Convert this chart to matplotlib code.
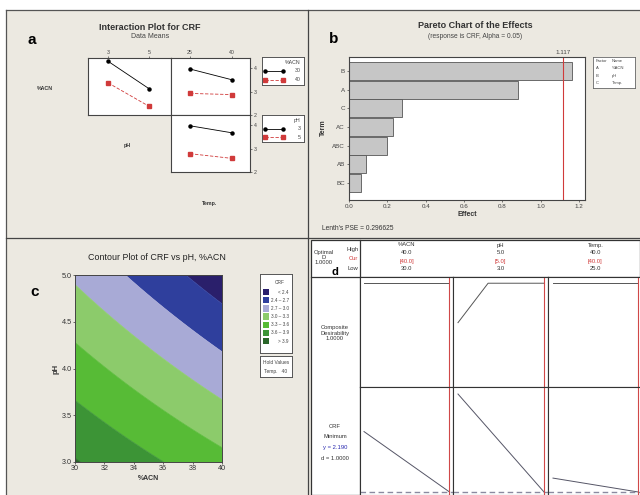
import numpy as np
import matplotlib
matplotlib.use("Agg")
import matplotlib.pyplot as plt
from matplotlib.patches import Rectangle

plt.rcParams['font.family'] = ['Liberation Sans', 'DejaVu Sans']

W, H = 640, 495
BG = '#ece9e1'
RED = '#d03a3a'

# ---- panel a: interaction plot (data means) ----
ph_levels = [3, 5]
temp_levels = [25, 40]
acn30_vs_ph = [4.29, 3.12]
acn40_vs_ph = [3.37, 2.37]
acn30_vs_temp = [3.96, 3.50]
acn40_vs_temp = [2.92, 2.87]
ph3_vs_temp = [3.97, 3.67]
ph5_vs_temp = [2.78, 2.58]

# ---- panel b: pareto chart ----
terms = ['B', 'A', 'C', 'AC', 'ABC', 'AB', 'BC']
effects = [1.162, 0.879, 0.275, 0.228, 0.199, 0.091, 0.061]
critical_effect = 1.117

# ---- panel c: contour, CRF at the corners of the design (Temp = 40) ----
acn_corners = [30, 40]
ph_corners = [3, 5]
crf_corners = [[3.92, 3.39],   # pH 3: ACN 30, ACN 40
               [2.95, 2.22]]   # pH 5: ACN 30, ACN 40
crf_levels = [2.0, 2.4, 2.7, 3.0, 3.3, 3.6, 3.9, 4.5]
crf_colors = ['#2a1f6b', '#2f3f9d', '#a8aad6', '#8ccb6b', '#57bb36', '#3c9436', '#2a6629']
crf_labels = ['< 2.4', '2.4 \u2013 2.7', '2.7 \u2013 3.0', '3.0 \u2013 3.3',
              '3.3 \u2013 3.6', '3.6 \u2013 3.9', '> 3.9']

# ---- panel d: response optimizer ----
acn_range = [30, 40]
ph_range = [3, 5]
temp_range = [25, 40]
desir_acn = [1.0, 1.0]
ph_desir_x = [3, 3.7, 5]
desir_ph = [0.62, 1.0, 1.0]
desir_temp = [1.0, 1.0]
crf_acn = [2.93, 2.19]
crf_ph = [3.39, 2.19]
crf_temp = [2.36, 2.19]
crf_min = 2.190

fig = plt.figure(figsize=(6.4, 4.95), dpi=100)
fig.patch.set_facecolor('white')


def ax_px(x0, y0, x1, y1, **kw):
    return fig.add_axes([x0 / W, 1 - y1 / H, (x1 - x0) / W, (y1 - y0) / H], **kw)


# background layer in pixel coordinates
bg = ax_px(0, 0, W, H)
bg.set_xlim(0, W)
bg.set_ylim(H, 0)
bg.axis('off')
bg.add_patch(Rectangle((6, 9.5), W - 6, H - 9.5, facecolor=BG, edgecolor='none'))
bg.add_patch(Rectangle((311, 240), W - 311, H - 240, facecolor='white', edgecolor='#333333', lw=0.9))
bg.plot([6, W], [9.5, 9.5], color='#555555', lw=0.9)
bg.plot([6, 6], [9.5, H], color='#555555', lw=0.9)
bg.plot([308, 308], [9.5, H], color='#444444', lw=0.9)
bg.plot([6, 308], [237.5, 237.5], color='#444444', lw=0.9)
bg.plot([308, W], [237.5, 237.5], color='#444444', lw=0.9)


def t(x, y, s, **kw):
    kw.setdefault('ha', 'center')
    kw.setdefault('va', 'center')
    bg.text(x, y, s, **kw)


# ================= panel a =================
t(32, 40, 'a', fontsize=11, fontweight='bold')
t(150, 27, 'Interaction Plot for CRF', fontsize=6.5, fontweight='bold', color='#333333')
t(150, 37, 'Data Means', fontsize=5, color='#444444')
t(45, 89, '%ACN', fontsize=3.8, fontweight='bold', color='#333333')
t(127, 146, 'pH', fontsize=3.8, fontweight='bold', color='#333333')
t(210, 204, 'Temp.', fontsize=3.8, fontweight='bold', color='#333333')

ylim_a = (2.0, 4.43)
a_tl = ax_px(88, 58, 171, 115)
a_tr = ax_px(171, 58, 250, 115)
a_br = ax_px(171, 115, 250, 172)
for ax in (a_tl, a_tr, a_br):
    ax.set_ylim(*ylim_a)
    for s in ax.spines.values():
        s.set_color('#444444')
        s.set_linewidth(0.8)
    ax.tick_params(labelsize=3.8, length=1.5, width=0.5, pad=1, colors='#444444')

line_k = dict(color='black', lw=0.6, marker='o', ms=2.2)
line_r = dict(color=RED, lw=0.6, ls=(0, (4, 2)), marker='s', ms=2.2)

a_tl.plot(ph_levels, acn30_vs_ph, **line_k)
a_tl.plot(ph_levels, acn40_vs_ph, **line_r)
a_tl.set_xlim(2.02, 6.07)
a_tl.xaxis.tick_top()
a_tl.set_xticks(ph_levels)
a_tl.set_yticks([])

a_tr.plot(temp_levels, acn30_vs_temp, **line_k)
a_tr.plot(temp_levels, acn40_vs_temp, **line_r)
a_tr.set_xlim(18.2, 46.4)
a_tr.xaxis.tick_top()
a_tr.set_xticks(temp_levels)
a_tr.yaxis.tick_right()
a_tr.set_yticks([2, 3, 4])

a_br.plot(temp_levels, ph3_vs_temp, **line_k)
a_br.plot(temp_levels, ph5_vs_temp, **line_r)
a_br.set_xlim(18.2, 46.4)
a_br.set_xticks([])
a_br.yaxis.tick_right()
a_br.set_yticks([2, 3, 4])


def mini_legend(box, title, labels):
    lg = ax_px(*box)
    lg.set_xlim(0, 1)
    lg.set_ylim(0, 1)
    lg.set_xticks([])
    lg.set_yticks([])
    for s in lg.spines.values():
        s.set_color('#555555')
        s.set_linewidth(0.7)
    lg.text(0.92, 0.8, title, fontsize=3.8, ha='right', va='center', color='#444444')
    lg.plot([0.08, 0.5], [0.5, 0.5], **line_k)
    lg.plot([0.08, 0.5], [0.18, 0.18], **line_r)
    lg.text(0.92, 0.5, labels[0], fontsize=3.8, ha='right', va='center', color='#444444')
    lg.text(0.92, 0.18, labels[1], fontsize=3.8, ha='right', va='center', color='#444444')


mini_legend((262, 57, 304, 85), '%ACN', ['30', '40'])
mini_legend((262, 115, 304, 142), 'pH', ['3', '5'])

# ================= panel b =================
t(334, 39, 'b', fontsize=11, fontweight='bold')
t(475, 26, 'Pareto Chart of the Effects', fontsize=6.5, fontweight='bold', color='#333333')
t(475, 36, '(response is CRF, Alpha = 0.05)', fontsize=4.8, color='#444444')
t(323, 128, 'Term', fontsize=5, fontweight='bold', rotation=90, color='#333333')
t(322, 229, "Lenth's PSE = 0.296625", fontsize=4.8, ha='left', color='#333333')

b = ax_px(349, 57, 585, 200)
ypos = np.arange(len(terms))
b.barh(ypos, effects, height=0.95, color='#c6c6c6', edgecolor='#555555', lw=0.6)
b.axvline(critical_effect, color=RED, lw=0.8)
b.set_xlim(0, 1.23)
b.set_ylim(6.91, -0.75)
b.set_yticks(ypos)
b.set_yticklabels(terms)
b.set_xticks(np.arange(0, 1.21, 0.2))
b.set_xticklabels(['%.1f' % v for v in np.arange(0, 1.21, 0.2)])
b.tick_params(labelsize=4.5, length=1.5, width=0.5, pad=1.5, colors='#444444')
b.set_xlabel('Effect', fontsize=5, fontweight='bold', labelpad=1.5, color='#333333')
for s in b.spines.values():
    s.set_color('#444444')
    s.set_linewidth(0.8)
b.text(critical_effect, -0.85, '%.3f' % critical_effect, fontsize=4.5, ha='center',
       va='bottom', color='#444444')

fb = ax_px(593, 57, 635, 88)
fb.set_xlim(0, 1)
fb.set_ylim(0, 1)
fb.set_xticks([])
fb.set_yticks([])
for s in fb.spines.values():
    s.set_color('#666666')
    s.set_linewidth(0.6)
fact_rows = [('Factor', 'Name'), ('A', '%ACN'), ('B', 'pH'), ('C', 'Temp.')]
for i, (f, n) in enumerate(fact_rows):
    yy = 0.86 - i * 0.23
    fb.text(0.06, yy, f, fontsize=3, va='center', color='#444444')
    fb.text(0.45, yy, n, fontsize=3, va='center', color='#444444')

# ================= panel c =================
t(35, 292, 'c', fontsize=11, fontweight='bold')
t(157, 257, 'Contour Plot of CRF vs pH, %ACN', fontsize=6.4, color='#222222')

c = ax_px(75, 275, 222, 462)
# bilinear response surface through the corner values
acn_g = np.linspace(acn_corners[0], acn_corners[1], 200)
ph_g = np.linspace(ph_corners[0], ph_corners[1], 200)
U, V = np.meshgrid((acn_g - acn_corners[0]) / (acn_corners[1] - acn_corners[0]),
                   (ph_g - ph_corners[0]) / (ph_corners[1] - ph_corners[0]))
Z = (crf_corners[0][0] * (1 - U) * (1 - V) + crf_corners[0][1] * U * (1 - V)
     + crf_corners[1][0] * (1 - U) * V + crf_corners[1][1] * U * V)
cf = c.contourf(acn_g, ph_g, Z, levels=crf_levels, colors=crf_colors, antialiased=True)
c.contour(acn_g, ph_g, Z, levels=crf_levels[1:-1], colors=crf_colors[1:], linewidths=0.5)
c.set_xlim(30, 40)
c.set_ylim(3, 5)
c.set_xticks(np.arange(30, 41, 2))
c.set_yticks([3.0, 3.5, 4.0, 4.5, 5.0])
c.set_yticklabels(['3.0', '3.5', '4.0', '4.5', '5.0'])
c.tick_params(labelsize=5.2, length=1.5, width=0.5, pad=1, colors='#333333')
c.set_xlabel('%ACN', fontsize=5, fontweight='bold', labelpad=1.5, color='#333333')
c.set_ylabel('pH', fontsize=5.5, fontweight='bold', labelpad=1.5, color='#333333')
for s in c.spines.values():
    s.set_color('#444444')
    s.set_linewidth(0.7)

lc = ax_px(260, 274, 292, 353)
lc.set_xlim(0, 32)
lc.set_ylim(79, 0)
lc.set_xticks([])
lc.set_yticks([])
for s in lc.spines.values():
    s.set_color('#555555')
    s.set_linewidth(0.7)
lc.text(20, 8, 'CRF', fontsize=3.5, ha='center', va='center', color='#444444')
for i, (col, lab) in enumerate(zip(crf_colors, crf_labels)):
    yy = 18 + i * 8.2
    lc.add_patch(Rectangle((3, yy - 3.2), 6, 6.4, facecolor=col, edgecolor='none'))
    lc.text(29, yy, lab, fontsize=3.3, ha='right', va='center', color='#444444')

hv = ax_px(260, 356, 292, 377)
hv.set_xticks([])
hv.set_yticks([])
for s in hv.spines.values():
    s.set_color('#555555')
    s.set_linewidth(0.7)
hv.text(0.5, 0.68, 'Hold Values', fontsize=3.5, ha='center', va='center', color='#444444')
hv.text(0.5, 0.28, 'Temp.   40', fontsize=3.5, ha='center', va='center', color='#444444')

# ================= panel d =================
bg.plot([311, W], [277, 277], color='#333333', lw=0.9)
bg.plot([360, 360], [240, H], color='#333333', lw=0.9)
t(324, 257.5, 'Optimal\nD\n1.0000', fontsize=4.2, color='#333333', linespacing=1.0)
t(353, 250, 'High', fontsize=4.2, color='#333333')
t(353, 259, 'Cur', fontsize=4.2, color=RED)
t(353, 268, 'Low', fontsize=4.2, color='#333333')
t(335, 272, 'd', fontsize=8, fontweight='bold')
t(335, 333, 'Composite\nDesirability\n1.0000', fontsize=4.2, color='#333333', linespacing=1.15)
t(335, 426, 'CRF', fontsize=4.2, color='#333333')
t(335, 437, 'Minimum', fontsize=4.2, color='#333333')
t(335, 448, 'y = %.3f' % crf_min, fontsize=4.2, color='#2a2ab0')
t(335, 459, 'd = 1.0000', fontsize=4.2, color='#333333')

col_px = [(360, 453), (453, 548), (548, 643)]
col_xlim = [(29.53, 40.41), (2.884, 5.093), (24.12, 40.85)]
col_names = ['%ACN', 'pH', 'Temp.']
col_ranges = [acn_range, ph_range, temp_range]
col_desir_x = [acn_range, ph_desir_x, temp_range]
col_desir = [desir_acn, desir_ph, desir_temp]
col_crf = [crf_acn, crf_ph, crf_temp]

for k in range(3):
    x0, x1 = col_px[k]
    lo, hi = col_ranges[k]
    cx = (x0 + x1) / 2
    t(cx, 245, col_names[k], fontsize=4.2, color='#333333')
    t(cx, 253, '%.1f' % hi, fontsize=4.2, color='#333333')
    t(cx, 261, '[%.1f]' % hi, fontsize=4.2, color=RED)
    t(cx, 269, '%.1f' % lo, fontsize=4.2, color='#333333')

    top = ax_px(x0, 277, x1, 387)
    top.plot(col_desir_x[k], col_desir[k], color='#555555', lw=0.7)
    top.set_ylim(0, 1.06)

    bot = ax_px(x0, 387, x1, H)
    bot.plot(col_ranges[k], col_crf[k], color='#555566', lw=0.7)
    bot.axhline(crf_min, color='#8a8aa0', lw=1.0, ls=(0, (4, 2.5)))
    bot.set_ylim(2.153, 3.476)

    for ax in (top, bot):
        ax.set_xlim(*col_xlim[k])
        ax.axvline(hi, color='#d04848', lw=0.8)
        ax.set_xticks([])
        ax.set_yticks([])
        for s in ax.spines.values():
            s.set_color('#333333')
            s.set_linewidth(0.8)

fig.savefig('out.png', dpi=100, facecolor=fig.get_facecolor())
